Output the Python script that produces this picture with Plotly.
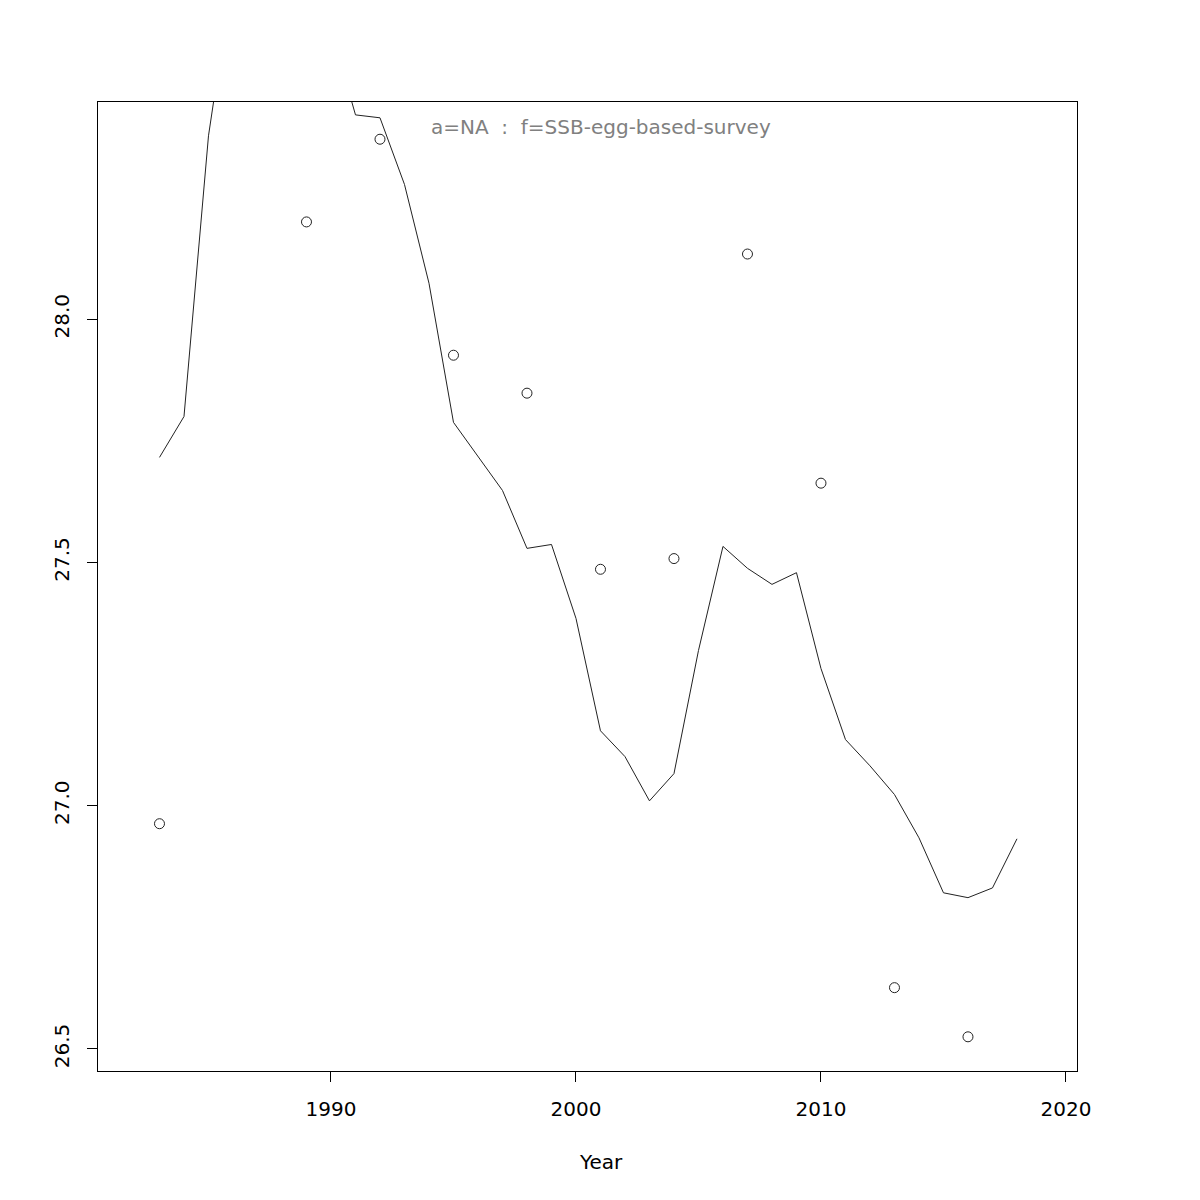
import plotly.graph_objects as go

# survey index points
pt_years = [1983, 1989, 1992, 1995, 1998, 2001, 2004, 2007, 2010, 2013, 2016]
pt_values = [26.963, 28.200, 28.370, 27.926, 27.848, 27.486, 27.508, 28.134, 27.663, 26.626, 26.525]

# fitted line
ln_years = list(range(1983, 2019))
ln_values = [27.716, 27.800, 28.377, 28.714, 28.85, 28.90, 28.85, 28.597, 28.420, 28.414,
             28.277, 28.074, 27.788, 27.718, 27.648, 27.529, 27.537, 27.385, 27.154, 27.101,
             27.010, 27.066, 27.319, 27.533, 27.488, 27.455, 27.479, 27.282, 27.136, 27.082,
             27.023, 26.934, 26.821, 26.811, 26.831, 26.932]

x_ticks = [1990, 2000, 2010, 2020]
y_ticks = [26.5, 27.0, 27.5, 28.0]
y_tick_text = ["26.5", "27.0", "27.5", "28.0"]

title_text = "a=NA  :  f=SSB-egg-based-survey"

# page offset compensation (browser body margin)
OFF = 8
L, R, T, B = 98 - OFF, 123 + OFF, 102 - OFF, 129 + OFF
plot_w = 1200 - L - R
plot_h = 1200 - T - B

fig = go.Figure()
fig.add_trace(go.Scatter(x=ln_years, y=ln_values, mode="lines",
                         line=dict(color="#222222", width=1), showlegend=False))
fig.add_trace(go.Scatter(x=pt_years, y=pt_values, mode="markers",
                         marker=dict(symbol="circle-open", size=10, color="#222222",
                                     line=dict(width=1, color="#222222")),
                         showlegend=False, cliponaxis=True))

fig.update_layout(
    width=1200, height=1200,
    paper_bgcolor="white", plot_bgcolor="white",
    margin=dict(l=L, r=R, t=T, b=B),
    font=dict(family="DejaVu Sans", size=20, color="black"),
    xaxis=dict(range=[1980.49, 2020.45], tickvals=x_ticks, ticks="outside", ticklen=10,
               tickcolor="black", showline=True, mirror=True, linecolor="black", linewidth=1,
               showgrid=False, zeroline=False, ticklabelstandoff=10,
               tickfont=dict(size=20, family="DejaVu Sans")),
    yaxis=dict(range=[26.4547, 28.4465], tickvals=y_ticks, ticktext=y_tick_text,
               ticks="outside", ticklen=10, tickangle=-90,
               tickcolor="black", showline=True, mirror=True, linecolor="black", linewidth=1,
               showgrid=False, zeroline=False, ticklabelstandoff=10,
               tickfont=dict(size=20, family="DejaVu Sans")),
    annotations=[
        dict(text=title_text, x=(601 - 98) / 979, y=(1071 - 127) / 969,
             xref="paper", yref="paper", xanchor="center", yanchor="middle",
             showarrow=False, font=dict(size=20, color="#808080", family="DejaVu Sans")),
        dict(text="Year", x=(601 - 98) / 979, y=(1071 - 1162) / 969,
             xref="paper", yref="paper", xanchor="center", yanchor="middle",
             showarrow=False, font=dict(size=20, family="DejaVu Sans")),
    ],
)

fig.write_html("out.html")
